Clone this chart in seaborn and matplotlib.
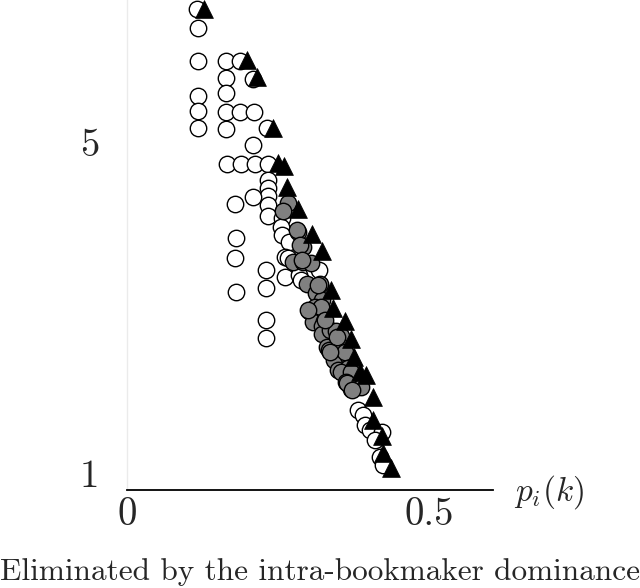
import matplotlib
matplotlib.use("Agg")
import matplotlib.pyplot as plt
import seaborn as sns
import pandas as pd

# --- data ---
white_x = [0.116, 0.117, 0.117, 0.117, 0.117, 0.117, 0.164, 0.187, 0.164, 0.208,
           0.164, 0.164, 0.187, 0.210, 0.164, 0.231, 0.208, 0.165, 0.188, 0.212,
           0.233, 0.233, 0.233, 0.233, 0.233, 0.233, 0.208, 0.179, 0.180, 0.179,
           0.180, 0.230, 0.230, 0.230, 0.230, 0.256, 0.255, 0.256, 0.268, 0.261,
           0.266, 0.261, 0.284, 0.288, 0.317, 0.382, 0.390, 0.393, 0.402, 0.421,
           0.410, 0.418, 0.423]
white_y = [6.61, 6.38, 5.98, 5.56, 5.37, 5.17, 5.98, 5.98, 5.77, 5.76,
           5.59, 5.36, 5.36, 5.36, 5.16, 5.17, 4.96, 4.73, 4.73, 4.73,
           4.73, 4.54, 4.44, 4.35, 4.24, 4.11, 4.34, 4.25, 3.84, 3.60,
           3.19, 3.45, 3.24, 2.85, 2.63, 4.08, 3.97, 3.88, 3.79, 3.61,
           3.60, 3.37, 3.39, 3.33, 3.45, 1.76, 1.70, 1.58, 1.52, 1.50,
           1.40, 1.19, 1.10]

gray_x = [0.266, 0.258, 0.283, 0.291, 0.274, 0.291, 0.304, 0.298, 0.319, 0.312,
          0.322, 0.311, 0.301, 0.321, 0.307, 0.326, 0.322, 0.322, 0.336, 0.345,
          0.354, 0.331, 0.334, 0.350, 0.342, 0.365, 0.360, 0.349, 0.365, 0.354,
          0.370, 0.362, 0.370, 0.380, 0.387, 0.281, 0.286, 0.289, 0.316, 0.299,
          0.327, 0.347, 0.336, 0.364, 0.372]
gray_y = [4.26, 4.17, 3.91, 3.73, 3.55, 3.55, 3.54, 3.28, 3.28, 3.18,
          3.09, 3.01, 2.96, 3.01, 2.82, 2.84, 2.78, 2.68, 2.73, 2.72,
          2.66, 2.52, 2.49, 2.55, 2.37, 2.41, 2.46, 2.24, 2.27, 2.22,
          2.22, 2.10, 2.02, 2.04, 2.04, 3.94, 3.76, 3.57, 3.27, 2.97,
          2.85, 2.64, 2.46, 2.09, 2.00]

tri_x = [0.127, 0.198, 0.215, 0.241, 0.250, 0.260, 0.264, 0.283, 0.306, 0.322,
         0.337, 0.340, 0.360, 0.370, 0.375, 0.385, 0.395, 0.407, 0.407, 0.421,
         0.423, 0.436]
tri_y = [6.61, 5.99, 5.79, 5.17, 4.75, 4.71, 4.46, 4.19, 3.89, 3.68,
         3.21, 2.99, 2.84, 2.62, 2.40, 2.22, 2.18, 1.92, 1.64, 1.45,
         1.24, 1.06]

x_ticks = [0, 0.5]
x_tick_labels = ["0", "0.5"]
y_ticks = [1, 5]
y_tick_labels = ["1", "5"]
x_label = r"$p_i(k)$"
caption = "Eliminated by the intra-bookmaker dominance"

# --- plotting ---
sns.set_style("white")
plt.rcParams["mathtext.fontset"] = "cm"

fig = plt.figure(figsize=(6.4, 5.88), dpi=100)
ax = fig.add_axes([127 / 640, 1 - 490 / 588, (493 - 127) / 640, 490 / 588])

df_w = pd.DataFrame({"x": white_x, "y": white_y})
df_g = pd.DataFrame({"x": gray_x, "y": gray_y})
df_t = pd.DataFrame({"x": tri_x, "y": tri_y})

sns.scatterplot(data=df_w, x="x", y="y", ax=ax, s=140, color="white",
                edgecolor="black", linewidth=1.0, marker="o", clip_on=False, zorder=3)
sns.scatterplot(data=df_g, x="x", y="y", ax=ax, s=140, color="#808080",
                edgecolor="black", linewidth=1.0, marker="o", clip_on=False, zorder=4)
sns.scatterplot(data=df_t, x="x", y="y", ax=ax, s=165, color="black",
                edgecolor="black", linewidth=0.5, marker="^", clip_on=False, zorder=5)

ax.set_xlim(0, 0.605)
ax.set_ylim(0.795, 6.716)
ax.set_xlabel("")
ax.set_ylabel("")

ax.set_xticks(x_ticks)
ax.set_xticklabels(x_tick_labels, fontfamily="cmr10", fontsize=28)
ax.set_yticks(y_ticks)
ax.set_yticklabels(y_tick_labels, fontfamily="cmr10", fontsize=28)
ax.tick_params(axis="x", length=0, pad=5)
ax.tick_params(axis="y", length=0, pad=20)

for side in ["top", "right"]:
    ax.spines[side].set_visible(False)
ax.spines["bottom"].set_color("black")
ax.spines["bottom"].set_linewidth(1.3)
ax.spines["left"].set_color("#ebebeb")
ax.spines["left"].set_linewidth(1.0)
ax.grid(False)

fig.text(549 / 640, 1 - 492 / 588, x_label, fontsize=24, ha="center", va="center")
fig.text(0.5, 1 - 580 / 588, caption, fontfamily="cmr10", fontsize=22.5,
         ha="center", va="baseline")

fig.savefig("out.png", dpi=100)
